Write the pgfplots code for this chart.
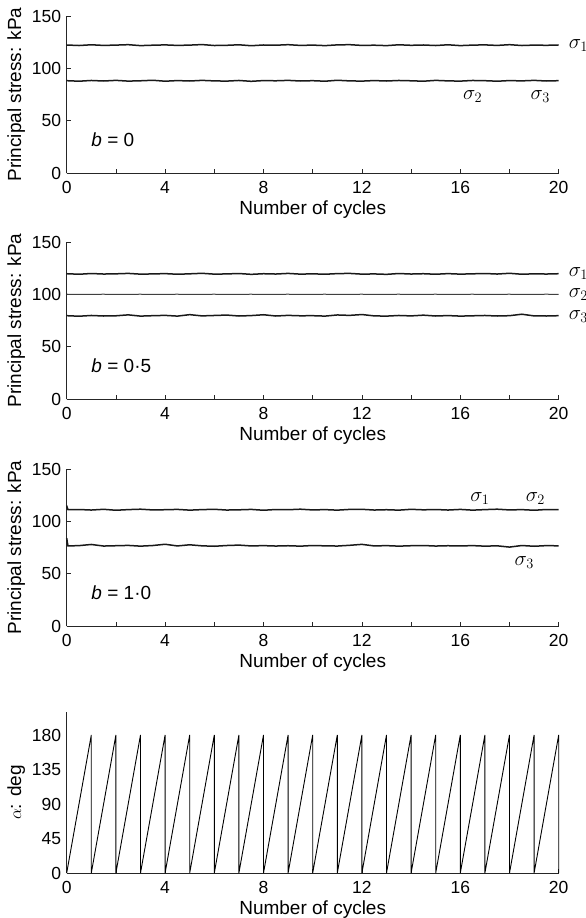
\documentclass[border=0pt]{standalone}
\usepackage{fontspec}
\setmainfont{Liberation Sans}
\usepackage{pgfplots}
\usepackage{pgfplotstable}
\pgfplotsset{compat=1.18}

\pgfplotstableread{
x s1 s23
0 122.3 88.2
0.5 121.8 87.7
1 122.5 88.4
1.5 121.9 87.9
2 122.2 88.5
2.5 122.6 87.8
3 121.7 88.1
3.5 122.1 88.6
4 122.4 87.7
4.5 121.9 88.3
5 122.2 87.9
5.5 122.7 88.5
6 121.8 88.0
6.5 122.0 87.8
7 122.5 88.4
7.5 121.6 87.6
8 122.3 88.3
8.5 122.1 88.1
9 122.6 88.5
9.5 121.9 87.9
10 122.2 88.2
10.5 121.7 87.7
11 122.4 88.6
11.5 122.6 88.0
12 121.9 87.8
12.5 122.1 88.3
13 121.7 87.9
13.5 122.5 88.4
14 122.0 88.1
14.5 122.3 87.7
15 121.8 88.5
15.5 122.5 88.0
16 121.7 87.8
16.5 122.2 88.4
17 122.4 88.2
17.5 121.9 87.7
18 122.6 88.3
18.5 121.8 88.0
19 122.2 88.5
19.5 122.0 87.9
20 122.3 88.2
}\tA

\pgfplotstableread{
x s1 s2 s3
0 119.7 100.1 79.6
0.5 119.2 99.9 79.1
1 119.9 100.0 79.8
1.5 119.4 100.1 79.3
2 119.6 99.9 79.5
2.5 120.0 100.0 80.4
3 119.3 100.1 79.2
3.5 119.5 99.9 79.6
4 119.8 100.0 79.9
4.5 119.2 100.1 79.2
5 119.6 99.9 80.6
5.5 120.1 100.0 79.4
6 119.3 100.1 79.8
6.5 119.5 99.9 80.2
7 119.9 100.0 79.3
7.5 119.1 100.1 79.7
8 119.7 99.9 80.5
8.5 119.4 100.0 79.3
9 120.0 100.1 79.9
9.5 119.3 99.9 79.5
10 119.6 100.0 79.6
10.5 119.2 100.1 79.2
11 119.8 99.9 80.3
11.5 120.0 100.0 79.9
12 119.3 100.1 80.7
12.5 119.5 99.9 79.4
13 119.1 100.0 79.2
13.5 119.9 100.1 79.8
14 119.4 99.9 79.4
14.5 119.7 100.0 80.1
15 119.2 100.1 79.3
15.5 119.8 99.9 79.7
16 119.3 100.0 79.2
16.5 119.6 100.1 79.5
17 119.9 99.9 79.8
17.5 119.4 100.0 79.3
18 120.1 100.1 79.6
18.5 119.2 99.9 81.0
19 119.6 100.0 79.4
19.5 119.4 100.1 79.3
20 119.7 100.0 79.6
}\tB

\pgfplotstableread{
x s12 s3
0 115.0 84.0
0.05 111.2 76.5
0.5 111.3 76.8
1 110.8 77.9
1.5 111.5 76.4
2 110.6 76.7
2.5 111.2 77.0
3 111.6 76.3
3.5 110.9 76.9
4 111.1 78.1
4.5 111.4 76.5
5 110.7 77.6
5.5 111.2 76.6
6 111.5 76.2
6.5 110.8 76.9
7 111.0 77.3
7.5 111.4 76.5
8 110.6 76.8
8.5 111.3 76.4
9 111.1 76.7
9.5 111.6 76.3
10 110.9 76.9
10.5 111.2 76.6
11 110.7 76.4
11.5 111.4 77.1
12 111.5 78.0
12.5 110.8 76.5
13 111.1 76.8
13.5 110.7 76.3
14 111.5 76.7
14.5 111.0 76.9
15 111.3 76.4
15.5 110.8 76.7
16 111.4 76.5
16.5 110.7 76.8
17 111.2 76.3
17.5 111.6 76.6
18 110.9 75.4
18.5 111.2 76.9
19 110.6 76.2
19.5 111.3 76.8
20 111.1 76.6
}\tC

\newcommand{\fs}{\fontsize{19}{22}\selectfont}
\newcommand{\ft}{\fontsize{17.5}{20}\selectfont}
\newcommand{\fsig}{\fontsize{20}{22}\selectfont}

\pgfplotsset{
  panel/.style={
    scale only axis, width=492pt, height=157pt,
    xmin=0, xmax=20, ymin=0, ymax=150,
    axis x line=bottom, axis y line=left,
    axis line style={-, black!85, line width=0.7pt},
    xtick={0,4,...,20}, minor xtick={2,6,...,18},
    ytick={0,50,100,150},
    tick align=inside, major tick length=4pt, minor tick length=4pt,
    tick style={black!85, line width=0.7pt},
    ticklabel style={font=\ft},
    xticklabel style={yshift=-4.5pt},
    yticklabel style={xshift=-2pt},
    label style={font=\fs},
    xlabel={Number of cycles},
    ylabel={Principal stress: kPa},
    /pgf/number format/assume math mode=true,
    clip=false,
  },
  sline/.style={black!90, line width=1.5pt, no markers},
}

\begin{document}
\begin{tikzpicture}
\useasboundingbox (-66.7pt,0pt) rectangle (519.3pt,-918pt);

% Panel 1
\begin{axis}[panel, at={(0pt,-173pt)}, anchor=south west]
\addplot[sline] table[x=x,y=s1] {\tA};
\addplot[sline] table[x=x,y=s23] {\tA};
\node[anchor=west, inner sep=0pt, xshift=10pt, font=\fsig] at (axis cs:20,122) {$\sigma_1$};
\node[font=\fsig, inner sep=0pt] at (axis cs:16.5,73) {$\sigma_2$};
\node[font=\fsig, inner sep=0pt] at (axis cs:19.25,73) {$\sigma_3$};
\node[anchor=west, font=\fs, inner sep=0pt] at (axis cs:1.0,31.5) {\textit{b} = 0};
\end{axis}

% Panel 2
\begin{axis}[panel, at={(0pt,-399pt)}, anchor=south west]
\addplot[sline] table[x=x,y=s1] {\tB};
\addplot[black!75, line width=1pt, no markers] table[x=x,y=s2] {\tB};
\addplot[sline] table[x=x,y=s3] {\tB};
\node[anchor=west, inner sep=0pt, xshift=10pt, font=\fsig] at (axis cs:20,119.5) {$\sigma_1$};
\node[anchor=west, inner sep=0pt, xshift=10pt, font=\fsig] at (axis cs:20,99.5) {$\sigma_2$};
\node[anchor=west, inner sep=0pt, xshift=10pt, font=\fsig] at (axis cs:20,79) {$\sigma_3$};
\node[anchor=west, font=\fs, inner sep=0pt] at (axis cs:1.0,32) {\textit{b} = 0·5};
\end{axis}

% Panel 3
\begin{axis}[panel, at={(0pt,-626pt)}, anchor=south west]
\addplot[sline] table[x=x,y=s12] {\tC};
\addplot[sline] table[x=x,y=s3] {\tC};
\node[font=\fsig, inner sep=0pt] at (axis cs:16.8,122) {$\sigma_1$};
\node[font=\fsig, inner sep=0pt] at (axis cs:19.05,122) {$\sigma_2$};
\node[font=\fsig, inner sep=0pt] at (axis cs:18.6,61) {$\sigma_3$};
\node[anchor=west, font=\fs, inner sep=0pt] at (axis cs:1.0,32) {\textit{b} = 1·0};
\end{axis}

% Panel 4
\begin{axis}[panel, at={(0pt,-873pt)}, anchor=south west,
  height=161pt, ymax=210, ytick={0,45,90,135,180},
  ytick style={draw=none},
  ylabel={$\alpha$: deg}]
\addplot[black, line width=0.9pt, no markers] coordinates {
(0,0)(1,180)(1,0)(2,180)(2,0)(3,180)(3,0)(4,180)(4,0)(5,180)(5,0)
(6,180)(6,0)(7,180)(7,0)(8,180)(8,0)(9,180)(9,0)(10,180)(10,0)
(11,180)(11,0)(12,180)(12,0)(13,180)(13,0)(14,180)(14,0)(15,180)(15,0)
(16,180)(16,0)(17,180)(17,0)(18,180)(18,0)(19,180)(19,0)(20,180)(20,0)};
\end{axis}
\end{tikzpicture}
\end{document}
